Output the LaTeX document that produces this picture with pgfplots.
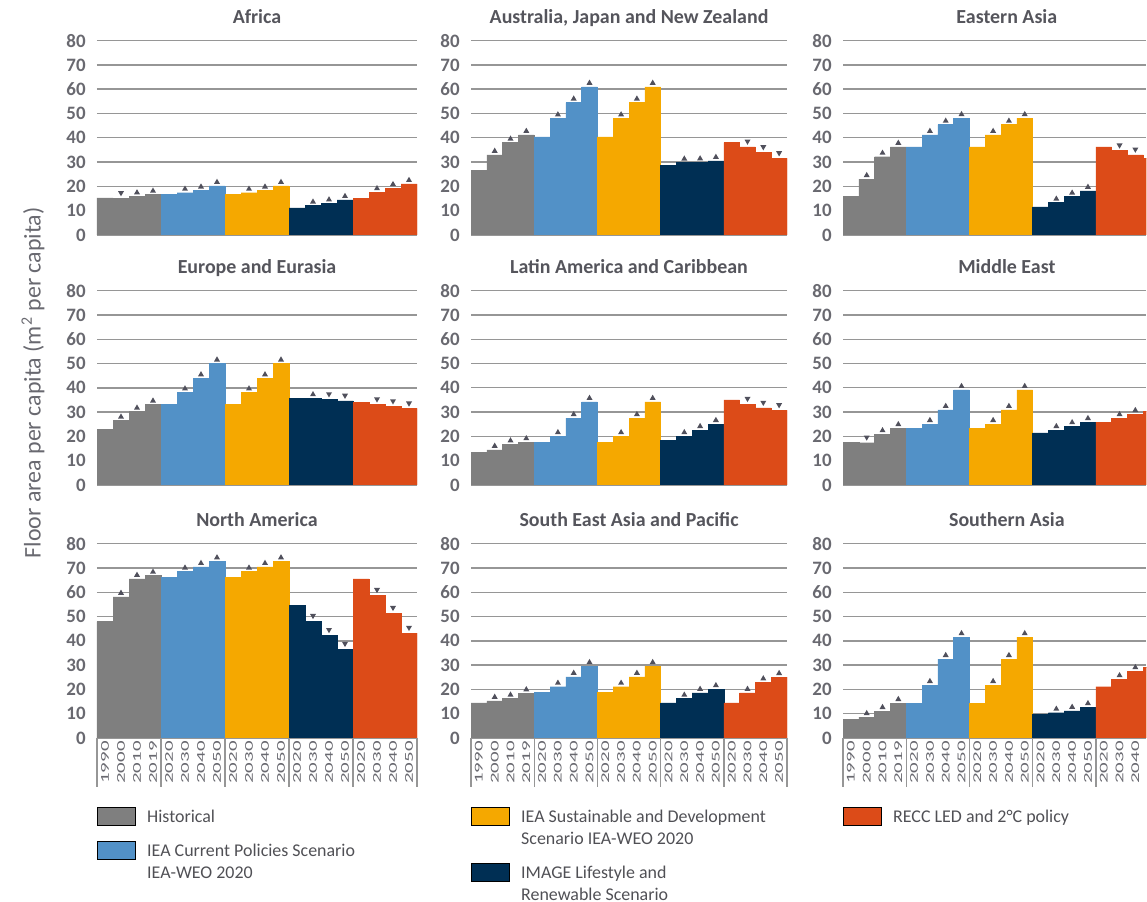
\documentclass[border=0pt]{standalone}
\usepackage{pgfplots}
\pgfplotsset{compat=1.18}
\usepackage{pgfplotstable}
\usepackage{graphicx}
\usepackage{fontspec}
\setmainfont{Carlito}

\definecolor{hist}{RGB}{127,127,127}
\definecolor{cps}{RGB}{82,145,199}
\definecolor{sds}{RGB}{245,168,0}
\definecolor{img}{RGB}{0,47,84}
\definecolor{recc}{RGB}{220,75,24}
\definecolor{gridcol}{RGB}{150,150,150}
\definecolor{tickcol}{RGB}{105,105,112}
\definecolor{titlecol}{RGB}{85,85,92}
\definecolor{legcol}{RGB}{80,80,85}
\definecolor{tricol}{RGB}{80,80,92}

% x = bar index (0-3 historical, 4-7 CPS, 8-11 SDS, 12-15 IMAGE, 16-19 RECC)
% t = change marker: u up, d down, n none
\pgfplotstableread[row sep=\\]{
x v t\\
0 15.3 n\\ 1 15.1 d\\ 2 15.9 u\\ 3 16.6 u\\
4 16.8 n\\ 5 17.4 u\\ 6 18.3 u\\ 7 20.2 u\\
8 16.6 n\\ 9 17.4 u\\ 10 18.3 u\\ 11 20.2 u\\
12 11.2 n\\ 13 12.1 u\\ 14 13.0 u\\ 15 14.4 u\\
16 15.2 n\\ 17 17.6 u\\ 18 19.3 u\\ 19 21.0 u\\
}\africa
\pgfplotstableread[row sep=\\]{
x v t\\
0 26.5 n\\ 1 33.0 u\\ 2 38.0 u\\ 3 41.2 u\\
4 40.4 n\\ 5 48.0 u\\ 6 54.5 u\\ 7 61.0 u\\
8 40.4 n\\ 9 48.0 u\\ 10 54.5 u\\ 11 61.0 u\\
12 28.8 n\\ 13 29.8 u\\ 14 29.9 u\\ 15 30.5 u\\
16 38.0 n\\ 17 36.3 d\\ 18 34.0 d\\ 19 31.5 d\\
}\ajnz
\pgfplotstableread[row sep=\\]{
x v t\\
0 15.8 n\\ 1 23.0 u\\ 2 32.2 u\\ 3 36.3 u\\
4 36.3 n\\ 5 41.2 u\\ 6 45.4 u\\ 7 48.1 u\\
8 36.3 n\\ 9 41.2 u\\ 10 45.4 u\\ 11 48.1 u\\
12 11.6 n\\ 13 13.3 u\\ 14 15.8 u\\ 15 18.2 u\\
16 36.3 n\\ 17 34.7 d\\ 18 33.0 d\\ 19 31.4 d\\
}\easia
\pgfplotstableread[row sep=\\]{
x v t\\
0 23.0 n\\ 1 26.5 u\\ 2 30.2 u\\ 3 33.1 u\\
4 33.1 n\\ 5 38.1 u\\ 6 43.9 u\\ 7 50.0 u\\
8 33.1 n\\ 9 38.1 u\\ 10 43.9 u\\ 11 50.0 u\\
12 35.6 n\\ 13 35.7 u\\ 14 35.2 d\\ 15 34.6 d\\
16 33.9 n\\ 17 33.1 d\\ 18 32.3 d\\ 19 31.4 d\\
}\europe
\pgfplotstableread[row sep=\\]{
x v t\\
0 13.5 n\\ 1 14.5 u\\ 2 16.7 u\\ 3 17.6 u\\
4 17.6 n\\ 5 20.1 u\\ 6 27.5 u\\ 7 34.2 u\\
8 17.6 n\\ 9 20.1 u\\ 10 27.5 u\\ 11 34.2 u\\
12 18.5 n\\ 13 20.1 u\\ 14 22.6 u\\ 15 25.1 u\\
16 35.0 n\\ 17 33.3 d\\ 18 31.7 d\\ 19 30.7 d\\
}\latam
\pgfplotstableread[row sep=\\]{
x v t\\
0 17.6 n\\ 1 17.4 d\\ 2 20.9 u\\ 3 23.4 u\\
4 23.4 n\\ 5 25.1 u\\ 6 30.9 u\\ 7 39.1 u\\
8 23.4 n\\ 9 25.1 u\\ 10 30.9 u\\ 11 39.1 u\\
12 21.5 n\\ 13 22.6 u\\ 14 24.2 u\\ 15 25.9 u\\
16 25.9 n\\ 17 27.5 u\\ 18 29.2 u\\ 19 30.3 u\\
}\mideast
\pgfplotstableread[row sep=\\]{
x v t\\
0 47.9 n\\ 1 58.1 u\\ 2 65.5 u\\ 3 66.8 u\\
4 66.2 n\\ 5 68.5 u\\ 6 70.4 u\\ 7 72.7 u\\
8 66.2 n\\ 9 68.5 u\\ 10 70.4 u\\ 11 72.7 u\\
12 54.7 n\\ 13 48.1 d\\ 14 42.3 d\\ 15 36.6 d\\
16 65.5 n\\ 17 58.8 d\\ 18 51.4 d\\ 19 43.2 d\\
}\namerica
\pgfplotstableread[row sep=\\]{
x v t\\
0 14.5 n\\ 1 15.3 u\\ 2 16.2 u\\ 3 18.4 u\\
4 18.8 n\\ 5 21.1 u\\ 6 25.2 u\\ 7 29.6 u\\
8 18.8 n\\ 9 21.1 u\\ 10 25.2 u\\ 11 29.6 u\\
12 14.5 n\\ 13 16.2 u\\ 14 18.6 u\\ 15 20.1 u\\
16 14.5 n\\ 17 18.6 u\\ 18 22.9 u\\ 19 25.1 u\\
}\seasia
\pgfplotstableread[row sep=\\]{
x v t\\
0 7.7 n\\ 1 8.6 u\\ 2 11.1 u\\ 3 14.4 u\\
4 14.4 n\\ 5 21.8 u\\ 6 32.5 u\\ 7 41.5 u\\
8 14.4 n\\ 9 21.8 u\\ 10 32.5 u\\ 11 41.5 u\\
12 9.6 n\\ 13 10.4 u\\ 14 11.2 u\\ 15 12.7 u\\
16 21.1 n\\ 17 24.2 u\\ 18 27.5 u\\ 19 29.2 u\\
}\sasia

\newcommand{\yr}[1]{\scalebox{1.75}[1]{#1}}
\newcommand{\entry}[1]{\begin{tabular}[t]{@{}l@{}}#1\end{tabular}}

% small change markers, drawn just above the bar top
\pgfdeclareplotmark{utri}{%
  \pgfpathmoveto{\pgfqpoint{-1.5bp}{1bp}}%
  \pgfpathlineto{\pgfqpoint{1.5bp}{1bp}}%
  \pgfpathlineto{\pgfqpoint{0bp}{3.6bp}}%
  \pgfpathclose\pgfusepathqfill}
\pgfdeclareplotmark{dtri}{%
  \pgfpathmoveto{\pgfqpoint{-1.5bp}{3.6bp}}%
  \pgfpathlineto{\pgfqpoint{1.5bp}{3.6bp}}%
  \pgfpathlineto{\pgfqpoint{0bp}{1bp}}%
  \pgfpathclose\pgfusepathqfill}

\pgfplotsset{
  bar/.style={ybar, bar width=1, fill=#1, draw=#1, line width=0.2bp, forget plot},
  tris/.style={scatter, only marks, forget plot, color=tricol,
    mark options={fill=tricol, draw=none},
    scatter/use mapped color={fill=tricol, draw=none},
    scatter src=explicit symbolic,
    scatter/classes={u={mark=utri}, d={mark=dtri}, n={mark=none}}},
  panel/.style={
    scale only axis, anchor=south west,
    height=97.2bp, xmin=-0.5, xmax=19.5, ymin=0, ymax=80,
    ytick={0,10,...,80},
    axis x line*=bottom, axis y line*=left,
    x axis line style={draw=gridcol, line width=0.8bp, -},
    y axis line style={draw=none},
    ytick style={draw=none},
    ymajorgrids, grid style={draw=gridcol, line width=0.7bp},
    /pgf/number format/assume math mode=true,
    yticklabel style={font=\fontsize{9.5}{10}\selectfont\bfseries, text=tickcol,
      anchor=east, inner sep=0pt, xshift=-5.5bp},
    title style={font=\fontsize{10}{12}\selectfont\bfseries, text=titlecol,
      anchor=base, at={(0.5,1)}, yshift=2.8bp},
  },
  top/.style={xtick=\empty},
  bot/.style={
    xtick={0,...,19},
    xticklabels={\yr{1990},\yr{2000},\yr{2010},\yr{2019},
      \yr{2020},\yr{2030},\yr{2040},\yr{2050},
      \yr{2020},\yr{2030},\yr{2040},\yr{2050},
      \yr{2020},\yr{2030},\yr{2040},\yr{2050},
      \yr{2020},\yr{2030},\yr{2040},\yr{2050}},
    major tick length=0pt,
    minor xtick={-0.5,3.5,7.5,11.5,15.5,19.5},
    minor tick length=24.5bp, tick align=outside,
    minor x tick style={draw=gridcol, line width=0.7bp},
    xticklabel style={font=\fontsize{6}{7}\selectfont, text=tickcol,
      yshift=-1.5bp, rotate=90, anchor=east, inner sep=0pt},
    legend image code/.code={\fill[##1] (0bp,-1.5bp) rectangle (19bp,7.5bp);},
    legend style={at={(0,-0.355)}, anchor=north west, draw=none, fill=none,
      inner sep=0pt, row sep=6bp, column sep=5.5bp,
      font=\fontsize{9}{11}\selectfont, text=legcol,
      cells={anchor=base west}, nodes={inner sep=0pt, text depth={}, text height={}}},
  },
}

\newcommand{\panelplots}[1]{%
  \addplot[bar=hist, restrict x to domain=-0.5:3.5] table[x=x,y=v]{#1};
  \addplot[bar=cps, restrict x to domain=3.5:7.5] table[x=x,y=v]{#1};
  \addplot[bar=sds, restrict x to domain=7.5:11.5] table[x=x,y=v]{#1};
  \addplot[bar=img, restrict x to domain=11.5:15.5] table[x=x,y=v]{#1};
  \addplot[bar=recc, restrict x to domain=15.5:19.5] table[x=x,y=v]{#1};
  \addplot[tris] table[x=x,y=v,meta=t]{#1};
}

\begin{document}
\begin{tikzpicture}

% top row
\begin{axis}[panel, top, at={(48.5bp,333.5bp)}, width=160bp, title={Africa}]
\panelplots{\africa}
\end{axis}
\begin{axis}[panel, top, at={(235.5bp,333.5bp)}, width=158bp, title={Australia, Japan and New Zealand}]
\panelplots{\ajnz}
\end{axis}
\begin{axis}[panel, top, at={(421.5bp,333.5bp)}, width=151.7bp, xmax=18.7,
  title={Eastern Asia}, title style={at={(0.54,1)}}]
\panelplots{\easia}
\end{axis}

% middle row
\begin{axis}[panel, top, at={(48.5bp,208.5bp)}, width=160bp, title={Europe and Eurasia},
  ylabel={Floor area per capita (m\textsuperscript{2} per capita)},
  ylabel style={at={(axis description cs:-0.2,0.526)}, anchor=center,
    font=\fontsize{12}{14}\selectfont, text=tickcol}]
\panelplots{\europe}
\end{axis}
\begin{axis}[panel, top, at={(235.5bp,208.5bp)}, width=158bp, title={Latin America and Caribbean}]
\panelplots{\latam}
\end{axis}
\begin{axis}[panel, top, at={(421.5bp,208.5bp)}, width=151.7bp, xmax=18.7,
  title={Middle East}, title style={at={(0.54,1)}}]
\panelplots{\mideast}
\end{axis}

% bottom row
\begin{axis}[panel, bot, at={(48.5bp,82bp)}, width=160bp, title={North America}]
\panelplots{\namerica}
\addlegendimage{fill=hist}
\addlegendentry{\entry{Historical}}
\addlegendimage{fill=cps}
\addlegendentry{\entry{IEA Current Policies Scenario\\IEA-WEO 2020}}
\end{axis}
\begin{axis}[panel, bot, at={(235.5bp,82bp)}, width=158bp, title={South East Asia and Pacific}]
\panelplots{\seasia}
\addlegendimage{fill=sds}
\addlegendentry{\entry{IEA Sustainable and Development\\Scenario IEA-WEO 2020}}
\addlegendimage{fill=img}
\addlegendentry{\entry{IMAGE Lifestyle and\\Renewable Scenario}}
\end{axis}
\begin{axis}[panel, bot, at={(421.5bp,82bp)}, width=151.7bp, xmax=18.7,
  title={Southern Asia}, title style={at={(0.54,1)}}]
\panelplots{\sasia}
\addlegendimage{fill=recc}
\addlegendentry{\entry{RECC LED and 2°C policy}}
\end{axis}

\pgfresetboundingbox
\useasboundingbox (0bp,0bp) rectangle (573.5bp,451bp);
\end{tikzpicture}
\end{document}
